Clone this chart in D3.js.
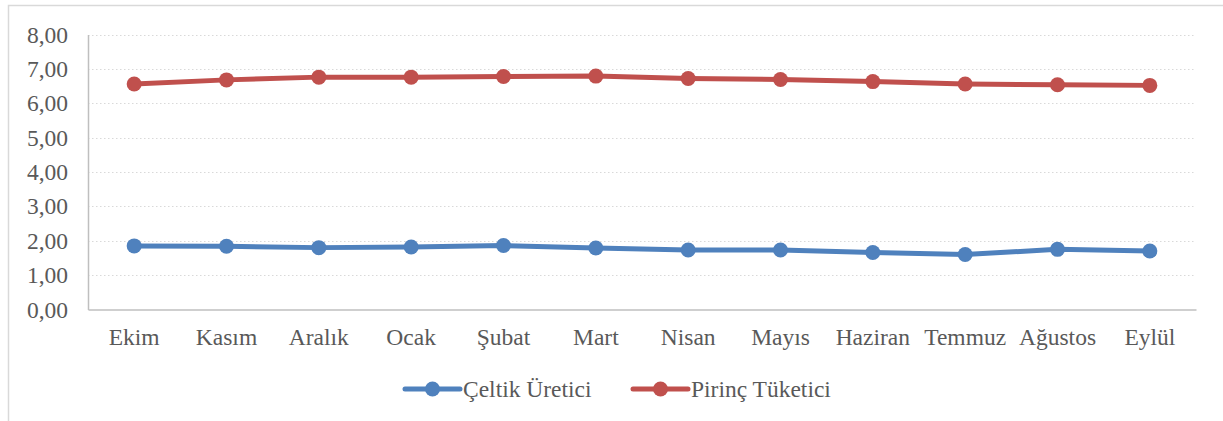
<!DOCTYPE html>
<html>
<head>
<meta charset="utf-8">
<script src="https://cdn.jsdelivr.net/npm/d3@7"></script>
<style>
  body { margin: 0; background: #fff; }
</style>
</head>
<body>
<div id="chart"></div>
<script>
  var months = ['Ekim', 'Kasım', 'Aralık', 'Ocak', 'Şubat', 'Mart', 'Nisan', 'Mayıs', 'Haziran', 'Temmuz', 'Ağustos', 'Eylül'];
  var celtikUretici = [1.85, 1.84, 1.80, 1.82, 1.86, 1.79, 1.73, 1.73, 1.66, 1.60, 1.75, 1.70];
  var pirincTuketici = [6.56, 6.68, 6.76, 6.76, 6.78, 6.79, 6.72, 6.69, 6.63, 6.56, 6.54, 6.52];
  var yTicks = [0, 1, 2, 3, 4, 5, 6, 7, 8];

  var series = [
    { name: 'Çeltik Üretici', values: celtikUretici, color: '#4F81BD' },
    { name: 'Pirinç Tüketici', values: pirincTuketici, color: '#C0504D' }
  ];

  var width = 1223, height = 421,
    plotLeft = 88, plotRight = 1196, plotTop = 34.5, plotBottom = 309.5,
    fontFamily = "'Liberation Serif', 'DejaVu Serif', serif",
    fontSize = '23.5px';

  var svg = d3.select('#chart').append('svg')
    .attr('width', width)
    .attr('height', height);

  // chart border
  svg.append('rect')
    .attr('x', 8.5).attr('y', 5.5)
    .attr('width', 1240).attr('height', 440)
    .attr('fill', 'none')
    .attr('stroke', '#d9d9d9')
    .attr('stroke-width', 1.5);

  var x = d3.scaleBand().domain(months).range([plotLeft, plotRight]);
  var y = d3.scaleLinear().domain([0, 8]).range([plotBottom, plotTop]);

  // gridlines
  svg.append('g')
    .selectAll('line')
    .data(yTicks.slice(1))
    .enter().append('line')
    .attr('x1', plotLeft).attr('x2', plotRight)
    .attr('y1', function(d) { return Math.round(y(d)) + 0.5; })
    .attr('y2', function(d) { return Math.round(y(d)) + 0.5; })
    .attr('stroke', '#d9d9d9')
    .attr('stroke-dasharray', '1.5,2.5');

  // y axis
  var yAxis = svg.append('g')
    .attr('transform', 'translate(' + plotLeft + ',0)')
    .call(d3.axisLeft(y).tickValues(yTicks).tickSize(0).tickPadding(20)
      .tickFormat(function(d) { return d3.format('.2f')(d).replace('.', ','); }));
  yAxis.attr('font-family', null).attr('font-size', null);
  yAxis.select('.domain').attr('stroke', '#bfbfbf').attr('stroke-width', 1.5);
  yAxis.selectAll('text')
    .style('font-family', fontFamily).style('font-size', fontSize).attr('fill', '#595959');

  // x axis
  var xAxis = svg.append('g')
    .attr('transform', 'translate(0,' + plotBottom + ')')
    .call(d3.axisBottom(x).tickSize(0).tickPadding(19));
  xAxis.attr('font-family', null).attr('font-size', null);
  xAxis.select('.domain').attr('stroke', '#bfbfbf').attr('stroke-width', 1.5);
  xAxis.selectAll('text')
    .style('font-family', fontFamily).style('font-size', fontSize).attr('fill', '#595959');

  var cx = function(d, i) { return x(months[i]) + x.bandwidth() / 2; };
  var line = d3.line().x(cx).y(function(d) { return y(d); });

  series.forEach(function(s) {
    var g = svg.append('g');
    g.append('path')
      .datum(s.values)
      .attr('d', line)
      .attr('fill', 'none')
      .attr('stroke', s.color)
      .attr('stroke-width', 5)
      .attr('stroke-linejoin', 'round');
    g.selectAll('circle')
      .data(s.values)
      .enter().append('circle')
      .attr('cx', cx)
      .attr('cy', function(d) { return y(d); })
      .attr('r', 7.5)
      .attr('fill', s.color);
  });

  // legend
  var legendX = [405, 633], legendY = 389;
  series.forEach(function(s, i) {
    var lg = svg.append('g').attr('transform', 'translate(' + legendX[i] + ',' + legendY + ')');
    lg.append('line')
      .attr('x1', 0).attr('x2', 55)
      .attr('stroke', s.color)
      .attr('stroke-width', 5)
      .attr('stroke-linecap', 'round');
    lg.append('circle').attr('cx', 27.5).attr('r', 7.5).attr('fill', s.color);
    lg.append('text')
      .attr('x', 58).attr('dy', '0.33em')
      .attr('fill', '#595959')
      .style('font-family', fontFamily)
      .style('font-size', fontSize)
      .text(s.name);
  });
</script>
</body>
</html>
